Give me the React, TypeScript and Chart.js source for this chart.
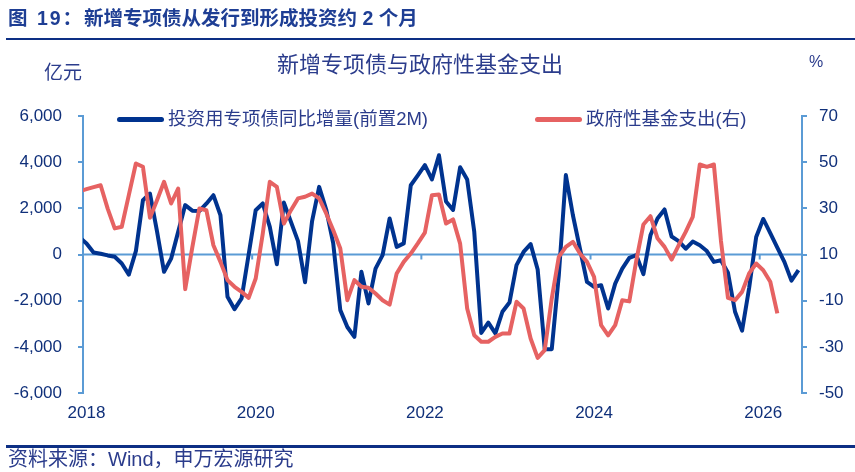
import React, { useEffect, useRef } from "react";
import { Chart, registerables } from "chart.js";

Chart.register(...registerables);

// Monthly categories, Dec 2017 through Jun 2026 (the first month sits just left of the visible range)
const FIRST_YEAR = 2017;
const FIRST_MONTH = 12;
const MONTH_COUNT = 103;
const monthLabels: string[] = [];
for (let k = 0; k < MONTH_COUNT; k++) {
  const n = FIRST_MONTH - 1 + k;
  const y = FIRST_YEAR + Math.floor(n / 12);
  const m = (n % 12) + 1;
  monthLabels.push(`${y}-${String(m).padStart(2, "0")}`);
}
const visibleStart = "2018-01";
const yearTicks = ["2018", "2020", "2022", "2024", "2026"];

// 投资用专项债同比增量(前置2M), 亿元
const bondIncrease: number[] = [
  750, 480, 90, 30, -40, -100, -390, -870, 145, 2350, 2640, 1000, -750,
  -180, 980, 2140, 1900, 1880, 2200, 2570, 1700, -1830, -2370, -1900, 0,
  1920, 2210, 1200, -420, 2250, 1415, 580, -1200, 1450, 2930, 1950, 480,
  -2410, -3140, -3570, -750, -2120, -610, -30, 1560, 330, 480, 3000, 3430,
  3870, 3250, 4300, 2300, 1930, 3780, 3250, 1000, -3400, -2950, -3420, -2480,
  -2080, -460, 110, 450, -650, -4100, -4100, -900, 3440, 1700, 250, -1190,
  -1400, -1330, -2340, -1260, -610, -150, -30, -850, 830, 1560, 1950, 780,
  580, 250, 560, 400, 150, -320, -250, -790, -2480, -3300, -1450, 760, 1540,
  930, 300, -320, -1130, -680,
];

// 政府性基金支出, 同比 %
const fundSpending: number[] = [
  37.4, 38.3, 39.2, 40, 29.9, 21.3, 22, 35.7, 49.4, 48, 25.9, 33.5, 41.5,
  32.1, 38.6, -5, 13, 29.9, 29.2, 14, 6.8, -1.1, -4, -6.2, -8.8, -0.4, 19,
  41.5, 39.3, 23.4, 29.2, 34.3, 35, 36.4, 34.3, 27.8, 20.5, 12.6, -9.8, -1.1,
  -4, -4.4, -6.9, -9.8, -11.7, 1.8, 6.8, 10.4, 14.8, 19.5, 35.7, 36, 23.4,
  25.2, 14.7, -13.4, -25, -27.8, -27.8, -25.7, -24.2, -24.2, -10.5, -13.4,
  -26.4, -34.8, -31.4, -9.1, 9, 13.3, 15.5, 10.4, 6.8, 0.3, -20.6, -25,
  -20.6, -9.8, -10.3, 7.5, 23, 26.6, 17, 13.3, 7.8, 14, 19.8, 26.3, 49, 48,
  49, 16, -8.8, -9.8, -6.2, 1.8, 6.1, 3.2, -1.8, -15.5,
];

const leftTicks = { min: -6000, max: 6000, step: 2000 };
const rightTicks = { min: -50, max: 70, step: 20 };

const BLUE = "#00338F";
const RED = "#E66262";
const AXIS = "#5B9BD5";
const TICK_TEXT = "#10307A";
const TEXT = "#2B3C8C";
const RULE = "#0D2F84";
const FONT = '"Liberation Sans", "Noto Sans CJK SC", sans-serif';

// Zero line across the plot, with year marks hanging from it
const zeroAxisPlugin = {
  id: "zeroAxis",
  beforeDatasetsDraw(chart: any) {
    const { ctx, chartArea } = chart;
    const x = chart.scales.x;
    const yL = chart.scales.yL;
    const y0 = yL.getPixelForValue(0);
    ctx.save();
    ctx.strokeStyle = AXIS;
    ctx.lineWidth = 2;
    ctx.beginPath();
    ctx.moveTo(chartArea.left, y0);
    ctx.lineTo(chartArea.right, y0);
    ctx.stroke();
    yearTicks.forEach((yr) => {
      const idx = monthLabels.indexOf(`${yr}-01`);
      if (idx < 0) return;
      const half = (x.getPixelForValue(idx + 1) - x.getPixelForValue(idx)) / 2;
      const px = x.getPixelForValue(idx) - half;
      if (px <= chartArea.left + 1) return;
      ctx.beginPath();
      ctx.moveTo(px, y0);
      ctx.lineTo(px, y0 + 5);
      ctx.stroke();
    });
    ctx.restore();
  },
};

function Text(props: {
  x: number;
  y: number;
  size: number;
  children: React.ReactNode;
  color?: string;
  bold?: boolean;
  center?: boolean;
  spacing?: number;
}) {
  const { x, y, size, children, color = TEXT, bold, center, spacing = 0 } = props;
  return (
    <div
      style={{
        position: "absolute",
        left: x,
        top: y,
        transform: center ? "translate(-50%, -50%)" : "translateY(-50%)",
        fontFamily: FONT,
        fontSize: size,
        fontWeight: bold ? 700 : 400,
        color,
        whiteSpace: "nowrap",
        lineHeight: 1,
        letterSpacing: spacing,
      }}
    >
      {children}
    </div>
  );
}

function Swatch({ x, y, color }: { x: number; y: number; color: string }) {
  return (
    <div
      style={{
        position: "absolute",
        left: x,
        top: y - 2.5,
        width: 47,
        height: 5,
        borderRadius: 2.5,
        background: color,
      }}
    />
  );
}

export default function App() {
  const canvasRef = useRef<HTMLCanvasElement | null>(null);

  useEffect(() => {
    const canvas = canvasRef.current;
    if (!canvas) return;
    const tickFont = { family: FONT, size: 17 };
    const chart = new Chart(canvas, {
      type: "line",
      data: {
        labels: monthLabels,
        datasets: [
          {
            label: "投资用专项债同比增量(前置2M)",
            data: bondIncrease,
            yAxisID: "yL",
            borderColor: BLUE,
            backgroundColor: BLUE,
            borderWidth: 4,
            pointRadius: 0,
            tension: 0,
            borderJoinStyle: "round",
            order: 2,
          },
          {
            label: "政府性基金支出(右)",
            data: fundSpending,
            yAxisID: "yR",
            borderColor: RED,
            backgroundColor: RED,
            borderWidth: 4,
            pointRadius: 0,
            tension: 0,
            borderJoinStyle: "round",
            order: 1,
          },
        ],
      },
      options: {
        responsive: false,
        animation: false,
        devicePixelRatio: 1,
        layout: { padding: { top: 116, left: 0, right: 0, bottom: 0 } },
        plugins: {
          legend: { display: false },
          title: { display: false },
          tooltip: { enabled: false },
        },
        scales: {
          x: {
            type: "category",
            min: visibleStart,
            offset: true,
            grid: { display: false },
            border: { display: false },
            ticks: {
              autoSkip: false,
              maxRotation: 0,
              padding: 2,
              color: TICK_TEXT,
              font: tickFont,
              callback: (value: any) => {
                const lab = monthLabels[Number(value)];
                if (!lab) return null;
                const yr = lab.slice(0, 4);
                return lab.endsWith("-01") && yearTicks.includes(yr) ? yr : null;
              },
            },
            afterFit: (s: any) => {
              s.height = 79;
            },
          },
          yL: {
            type: "linear",
            position: "left",
            min: leftTicks.min,
            max: leftTicks.max,
            grid: {
              drawOnChartArea: false,
              drawTicks: true,
              tickLength: 5,
              color: AXIS,
              lineWidth: 2,
            },
            border: { display: true, color: AXIS, width: 2 },
            ticks: {
              stepSize: leftTicks.step,
              padding: 16,
              color: TICK_TEXT,
              font: tickFont,
              callback: (v: any) => Number(v).toLocaleString("en-US"),
            },
            afterFit: (s: any) => {
              s.width = 83;
            },
          },
          yR: {
            type: "linear",
            position: "right",
            min: rightTicks.min,
            max: rightTicks.max,
            grid: {
              drawOnChartArea: false,
              drawTicks: true,
              tickLength: 5,
              color: AXIS,
              lineWidth: 2,
            },
            border: { display: true, color: AXIS, width: 2 },
            ticks: {
              stepSize: rightTicks.step,
              padding: 12,
              color: TICK_TEXT,
              font: tickFont,
            },
            afterFit: (s: any) => {
              s.width = 53;
            },
          },
        },
      } as any,
      plugins: [zeroAxisPlugin],
    });
    return () => chart.destroy();
  }, []);

  return (
    <div
      style={{
        position: "fixed",
        left: 0,
        top: 0,
        width: 855,
        height: 472,
        background: "#ffffff",
        overflow: "hidden",
      }}
    >
      <canvas
        ref={canvasRef}
        width={855}
        height={472}
        style={{ position: "absolute", left: 0, top: 0, width: 855, height: 472 }}
      />
      <Text x={8} y={19} size={19.5} bold color="#1E3E94">
        <span style={{ letterSpacing: 2 }}>图 19：</span>
        新增专项债从发行到形成投资约 2 个月
      </Text>
      <div
        style={{ position: "absolute", left: 6, top: 37.5, width: 849, height: 2.5, background: RULE }}
      />
      <Text x={420} y={65} size={22} center>
        新增专项债与政府性基金支出
      </Text>
      <Text x={44} y={72} size={19}>
        亿元
      </Text>
      <Text x={809} y={62} size={16}>
        %
      </Text>
      <Swatch x={117} y={119} color={BLUE} />
      <Text x={168} y={119} size={18.5}>
        投资用专项债同比增量(前置2M)
      </Text>
      <Swatch x={535} y={119} color={RED} />
      <Text x={586} y={119} size={18.5}>
        政府性基金支出(右)
      </Text>
      <div
        style={{ position: "absolute", left: 6, top: 445, width: 849, height: 2.5, background: RULE }}
      />
      <Text x={8} y={459} size={20}>
        资料来源：Wind，申万宏源研究
      </Text>
    </div>
  );
}
